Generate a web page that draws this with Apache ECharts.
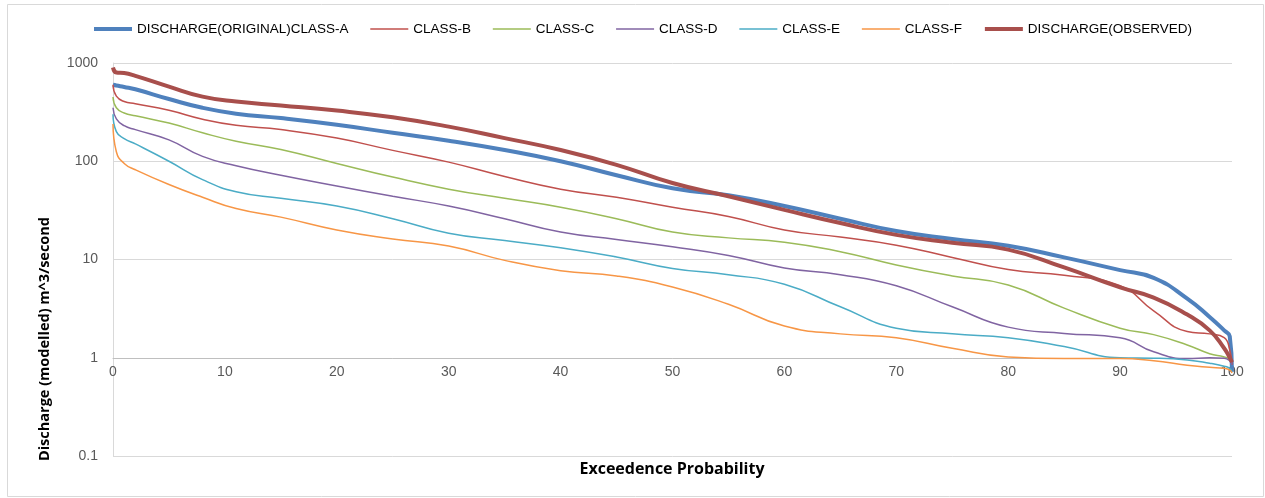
<!DOCTYPE html>
<html>
<head>
<meta charset="utf-8">
<script src="https://cdn.jsdelivr.net/npm/echarts@6/dist/echarts.min.js"></script>
<style>
html,body{margin:0;padding:0;background:#fff;}
#chart{width:1265px;height:498px;}
</style>
</head>
<body>
<div id="chart"></div>
<script>
// Exceedence probability (%)
var probability = [0, 0.3, 1, 2, 5, 8, 11, 15, 20, 25, 30, 35, 40, 45, 50, 55, 60, 65, 70, 75, 80, 85, 90, 93, 96, 98, 99.3, 99.8, 100];
var classA = [600, 590, 570, 540, 430, 350, 305, 275, 235, 195, 162, 130, 100, 72, 53, 45, 35, 26, 19.5, 16.2, 13.8, 10.5, 7.8, 6.5, 4.0, 2.6, 1.9, 1.65, 0.72];
var classB = [600, 460, 405, 385, 330, 268, 232, 210, 172, 129, 98, 70, 52, 43, 34, 27.4, 20, 16.9, 14, 10.5, 7.9, 6.9, 5.4, 3.0, 1.85, 1.75, 1.6, 1.2, 0.85];
var classC = [450, 350, 310, 290, 245, 195, 160, 132, 95, 69, 52, 42, 34, 26, 19, 16.6, 15, 12, 8.8, 6.8, 5.5, 3.2, 2.0, 1.72, 1.35, 1.1, 1.02, 0.97, 0.92];
var classD = [350, 270, 230, 210, 165, 112, 90, 72, 56, 44, 35, 26, 19, 16, 13.5, 11, 8.2, 7.0, 5.4, 3.3, 2.05, 1.77, 1.6, 1.15, 0.98, 1.0, 0.99, 0.93, 0.85];
var classE = [300, 200, 170, 150, 100, 65, 49, 42, 35, 26, 18.5, 15.6, 13.2, 10.6, 8.1, 7, 5.6, 3.3, 2.0, 1.75, 1.6, 1.3, 1.0, 0.99, 0.95, 0.88, 0.82, 0.78, 0.72];
var classF = [240, 125, 95, 82, 58, 43, 33, 27, 20, 16.2, 13.7, 9.8, 7.7, 6.8, 5.25, 3.5, 2.1, 1.75, 1.6, 1.25, 1.02, 0.98, 0.98, 0.93, 0.84, 0.8, 0.78, 0.75, 0.7];
var observed = [900, 800, 790, 740, 575, 455, 405, 370, 328, 280, 225, 172, 130, 92, 60, 44, 32, 23.5, 17.8, 14.8, 12.6, 8.3, 5.2, 4.1, 2.75, 1.9, 1.25, 1.0, 0.9];

var seriesNames = ['DISCHARGE(ORIGINAL)CLASS-A', 'CLASS-B', 'CLASS-C', 'CLASS-D', 'CLASS-E', 'CLASS-F', 'DISCHARGE(OBSERVED)'];
var seriesValues = [classA, classB, classC, classD, classE, classF, observed];
var seriesColors = ['#4F81BD', '#C0504D', '#9BBB59', '#8064A2', '#4BACC6', '#F79646', '#A84F4C'];
var seriesWidths = [4, 1.5, 1.5, 1.5, 1.5, 1.5, 4];
var xTicks = [0, 10, 20, 30, 40, 50, 60, 70, 80, 90, 100];

var FONT = '"Liberation Sans", Arial, sans-serif';
var TITLE_FONT = '"Open Sans", "Liberation Sans", sans-serif';

var chart = echarts.init(document.getElementById('chart'), null, {renderer: 'canvas'});

var series = seriesNames.map(function (name, i) {
  return {
    name: name,
    type: 'line',
    data: probability.map(function (p, j) { return [p, seriesValues[i][j]]; }),
    smooth: 0.5,
    showSymbol: false,
    symbol: 'none',
    lineStyle: {color: seriesColors[i], width: seriesWidths[i]},
    itemStyle: {color: seriesColors[i]},
    emphasis: {disabled: true},
    z: 2 + i
  };
});

chart.setOption({
  animation: false,
  backgroundColor: '#fff',
  textStyle: {fontFamily: FONT},
  legend: {
    top: 17,
    left: 87,
    itemWidth: 38,
    itemHeight: 14,
    itemGap: 21,
    data: seriesNames.map(function (n, i) {
      return {name: n, lineStyle: {color: seriesColors[i], width: seriesWidths[i] > 2 ? 4 : 1.5}};
    }),
    itemStyle: {color: 'transparent', borderWidth: 0, opacity: 0},
    textStyle: {fontFamily: FONT, fontSize: 13.5, color: '#000'}
  },
  grid: {left: 113, right: 33, top: 63, bottom: 42, containLabel: false},
  xAxis: {
    type: 'value',
    min: 0,
    max: 100,
    interval: 10,
    offset: -98,
    axisLine: {show: true, lineStyle: {color: '#bfbfbf', width: 1}},
    axisTick: {show: false},
    splitLine: {show: false},
    axisLabel: {
      color: '#595959', fontSize: 14, fontFamily: FONT, margin: 7,
      customValues: xTicks
    }
  },
  yAxis: {
    type: 'log',
    logBase: 10,
    min: 0.1,
    max: 1000,
    axisLine: {show: true, lineStyle: {color: '#d9d9d9'}},
    axisTick: {show: false},
    splitLine: {show: true, lineStyle: {color: '#d9d9d9', width: 1}},
    axisLabel: {
      color: '#595959', fontSize: 14, fontFamily: FONT, margin: 15,
      formatter: function (v) { return String(v); }
    }
  },
  graphic: [
    {
      type: 'rect', left: 5, top: 2, silent: true,
      shape: {width: 1256, height: 492},
      style: {fill: 'none', stroke: '#d9d9d9', lineWidth: 1}
    },
    {
      type: 'text', x: 45, y: 339, rotation: Math.PI / 2, silent: true,
      style: {text: 'Discharge (modelled) m^3/second', fill: '#000', font: 'bold 14.5px ' + TITLE_FONT, align: 'center', verticalAlign: 'middle'}
    },
    {
      type: 'text', x: 672, y: 469, silent: true,
      style: {text: 'Exceedence Probability', fill: '#000', font: 'bold 16px ' + TITLE_FONT, align: 'center', verticalAlign: 'middle'}
    }
  ],
  series: series
});
</script>
</body>
</html>
